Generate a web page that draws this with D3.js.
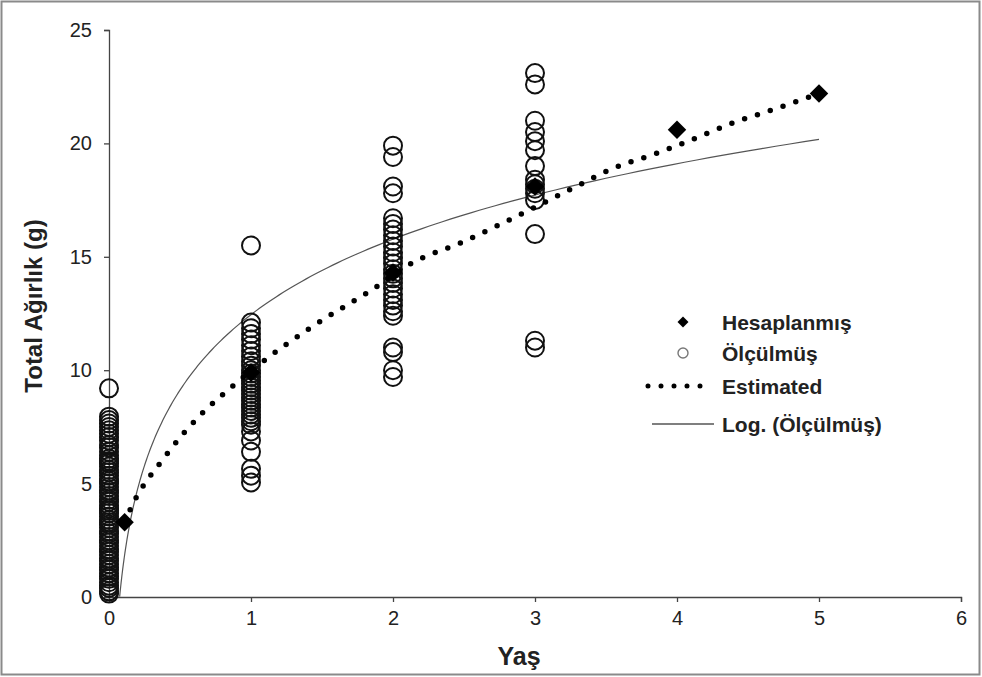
<!DOCTYPE html>
<html><head><meta charset="utf-8">
<script src="https://cdn.jsdelivr.net/npm/d3@7"></script>
<style>body{margin:0;background:#fff}svg{display:block}text{font-family:"Liberation Sans",Arial,sans-serif}</style>
</head><body><div id="chart"></div>
<script>
// Measured (Ölçülmüş) values by age
const age0 = [9.2,7.95,7.8,7.65,7.5,7.35,7.2,7.05,6.9,6.7,6.6,6.4,6.25,6.1,6.0,5.9,5.75,5.6,5.5,5.35,5.2,5.1,5.0,4.85,4.7,4.6,4.45,4.3,4.2,4.05,3.9,3.8,3.7,3.55,3.4,3.3,3.2,3.05,2.9,2.8,2.65,2.5,2.4,2.25,2.1,2.0,1.85,1.7,1.6,1.45,1.3,1.2,1.05,0.9,0.8,0.65,0.5,0.4,0.25,0.15];
const age1 = [15.5,12.1,11.85,11.6,11.35,11.1,10.85,10.6,10.4,10.2,10.0,9.85,9.7,9.55,9.4,9.25,9.1,8.95,8.8,8.65,8.5,8.35,8.2,8.05,7.9,7.75,7.6,7.3,6.9,6.4,5.65,5.35,5.05];
const age2 = [19.9,19.4,18.1,17.8,16.7,16.45,16.2,15.95,15.7,15.45,15.2,14.95,14.7,14.45,14.25,14.05,13.85,13.6,13.35,13.1,12.85,12.6,12.4,11.0,10.8,10.0,9.7];
const age3 = [23.1,22.6,21.0,20.5,20.1,19.7,19.0,18.4,18.2,18.0,17.8,17.5,16.0,11.3,11.0];
const measuredAges = [0,1,2,3];
// Hesaplanmış (calculated) points
const calcX = [0.11,1,2,3,4,5];
const calcY = [3.3,9.9,14.3,18.1,20.6,22.2];
// Estimated curve
const estX = [0.11,0.16,0.39,0.64,0.86,1.0,1.44,1.84,2.14,2.47,2.94,3.29,3.55,3.86,4.04,4.41,4.68,5.0];
const estY = [3.3,4.0,6.15,8.0,9.24,9.97,11.96,13.5,14.75,15.6,17.0,18.1,18.9,19.57,20.0,20.94,21.5,22.2];
// Logarithmic trendline of measured: y = a + b ln(x)
const logCoef = [12.45, 4.8];
const logRange = [0.075, 5];
const xTicks = [0,1,2,3,4,5,6];
const yTicks = [0,5,10,15,20,25];
const legendLabels = ["Hesaplanmış","Ölçülmüş","Estimated","Log. (Ölçülmüş)"];

const W=982,H=677;
const svg=d3.select("#chart").append("svg").attr("width",W).attr("height",H);
svg.append("rect").attr("x",1.5).attr("y",1.5).attr("width",W-4).attr("height",H-4).attr("fill","#fff").attr("stroke","#8a8a8a").attr("stroke-width",2);

const x=d3.scaleLinear().domain([0,6]).range([109,961]);
const y=d3.scaleLinear().domain([0,25]).range([597,30]);

const axisColor="#444";
const gx=svg.append("g").attr("transform","translate(0,597)").call(d3.axisBottom(x).tickValues(xTicks).tickFormat(d3.format("d")).tickSize(5).tickPadding(9));
const gy=svg.append("g").attr("transform","translate(109,0)").call(d3.axisLeft(y).tickValues(yTicks).tickFormat(d3.format("d")).tickSize(5).tickPadding(12));
[gx,gy].forEach(g=>{
  g.select(".domain").attr("stroke",axisColor).attr("stroke-width",1.3);
  g.selectAll(".tick line").attr("stroke",axisColor).attr("stroke-width",1.3);
  g.selectAll(".tick text").attr("font-size",20).attr("fill","#222").attr("font-family","Liberation Sans, Arial, sans-serif");
});

svg.append("text").attr("transform","translate(42,306) rotate(-90)").attr("text-anchor","middle")
  .attr("font-size",24).attr("font-weight","bold").attr("fill","#222").text("Total Ağırlık  (g)");
svg.append("text").attr("x",519).attr("y",665).attr("text-anchor","middle")
  .attr("font-size",25).attr("font-weight","bold").attr("fill","#222").text("Yaş");

// log trendline
const logPts=d3.range(0,201).map(i=>{const xv=logRange[0]*Math.pow(logRange[1]/logRange[0],i/200);return [xv,logCoef[0]+logCoef[1]*Math.log(xv)];});
svg.append("path").datum(logPts).attr("fill","none").attr("stroke","#555").attr("stroke-width",1.2)
  .attr("d",d3.line().x(d=>x(d[0])).y(d=>y(Math.max(0,d[1]))));

// measured circles
const measured=[age0,age1,age2,age3].flatMap((arr,i)=>arr.map(v=>({a:measuredAges[i],v})));
svg.append("g").selectAll("circle").data(measured).join("circle")
  .attr("cx",d=>x(d.a)).attr("cy",d=>y(d.v)).attr("r",9)
  .attr("fill","none").attr("stroke","#111").attr("stroke-width",2);

// estimated dotted
svg.append("path").datum(estX.map((v,i)=>[v,estY[i]])).attr("fill","none").attr("stroke","#000")
  .attr("stroke-width",5.5).attr("stroke-linecap","round").attr("stroke-dasharray","0 13.5")
  .attr("d",d3.line().curve(d3.curveMonotoneX).x(d=>x(d[0])).y(d=>y(d[1])));

// diamonds
svg.append("g").selectAll("path").data(calcX.map((v,i)=>[v,calcY[i]])).join("path")
  .attr("transform",d=>`translate(${x(d[0])},${y(d[1])}) rotate(45)`)
  .attr("d",d3.symbol().type(d3.symbolSquare).size(170)).attr("fill","#000");

// legend
const lg=svg.append("g");
const ly=[322,353,386,424];
lg.append("path").attr("transform",`translate(683,${ly[0]}) rotate(45)`).attr("d",d3.symbol().type(d3.symbolSquare).size(60)).attr("fill","#000");
lg.append("circle").attr("cx",683).attr("cy",ly[1]).attr("r",5).attr("fill","none").attr("stroke","#777").attr("stroke-width",1.4);
lg.append("line").attr("x1",648).attr("x2",713).attr("y1",ly[2]).attr("y2",ly[2]).attr("stroke","#000").attr("stroke-width",5).attr("stroke-linecap","round").attr("stroke-dasharray","0 13");
lg.append("line").attr("x1",652).attr("x2",714).attr("y1",ly[3]).attr("y2",ly[3]).attr("stroke","#555").attr("stroke-width",1.3);
legendLabels.forEach((t,i)=>lg.append("text").attr("x",722).attr("y",ly[i]).attr("dy","0.36em")
  .attr("font-size",21).attr("font-weight","bold").attr("fill","#222").text(t));
</script></body></html>
